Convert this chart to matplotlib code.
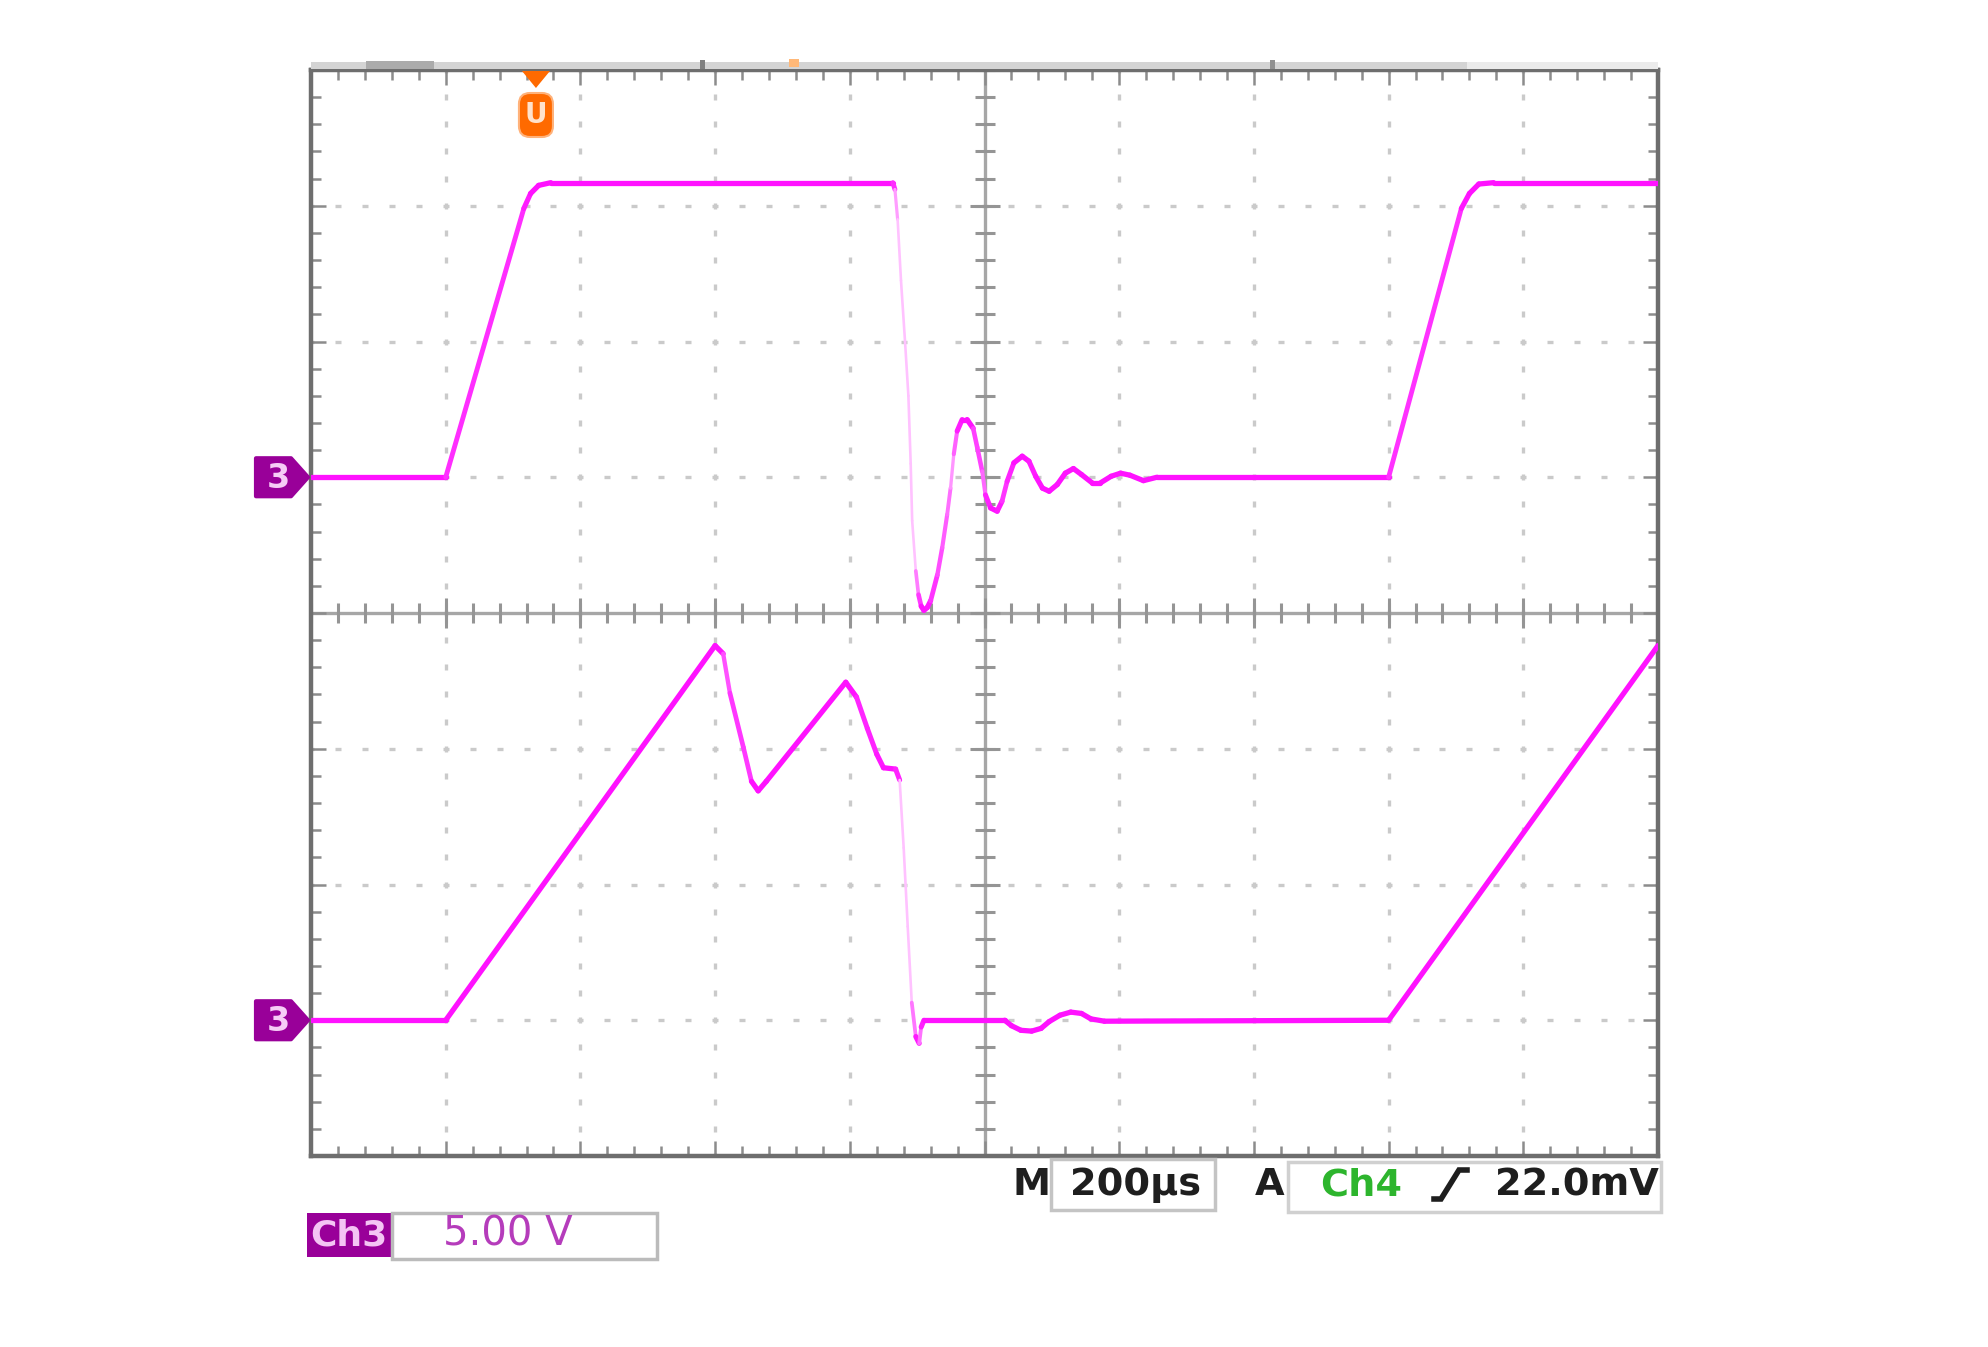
import numpy as np
import matplotlib
matplotlib.use("Agg")
import matplotlib.pyplot as plt
from matplotlib.collections import LineCollection
from matplotlib.patches import Rectangle, Polygon, FancyBboxPatch
from matplotlib.lines import Line2D
from matplotlib.transforms import IdentityTransform
from matplotlib.colors import to_rgb

# --- trace data: x in divisions (200us/div), y in divisions above the channel marker
upper_x = [-5.0, -4.0, -3.42, -3.37, -3.31, -3.22, -0.68, -0.665, -0.645, -0.62,
           -0.59, -0.565, -0.548, -0.537, -0.51, -0.49, -0.47, -0.45, -0.425, -0.40,
           -0.35, -0.314, -0.277, -0.252, -0.228, -0.203, -0.166, -0.129, -0.084, -0.054,
           -0.017, 0.007, 0.045, 0.094, 0.13, 0.168, 0.218, 0.28, 0.33, 0.38,
           0.43, 0.48, 0.54, 0.60, 0.66, 0.72, 0.80, 0.86, 0.94, 1.01,
           1.08, 1.18, 1.28, 3.0, 3.54, 3.60, 3.67, 3.78, 5.0]
upper_y = [0.0, 0.0, 1.98, 2.09, 2.15, 2.17, 2.17, 2.12, 1.90, 1.45,
           1.0, 0.6, 0.1, -0.32, -0.69, -0.865, -0.95, -0.98, -0.96, -0.91,
           -0.72, -0.52, -0.275, -0.08, 0.17, 0.34, 0.425, 0.425, 0.36, 0.22,
           0.044, -0.13, -0.226, -0.25, -0.177, -0.03, 0.106, 0.155, 0.118, 0.007,
           -0.08, -0.103, -0.054, 0.03, 0.064, 0.02, -0.042, -0.042, 0.007, 0.03,
           0.015, -0.025, 0.0, 0.0, 1.98, 2.09, 2.16, 2.17, 2.17]

lower_x = [-5.0, -4.0, -2.0, -1.94, -1.89, -1.79, -1.73, -1.68, -1.62, -1.03,
           -0.95, -0.87, -0.80, -0.75, -0.66, -0.63, -0.60, -0.57, -0.54, -0.51,
           -0.485, -0.47, -0.45, 0.15, 0.20, 0.27, 0.35, 0.42, 0.48, 0.56,
           0.64, 0.72, 0.79, 0.89, 3.0, 5.0]
lower_y = [0.0, 0.0, 2.76, 2.70, 2.41, 2.01, 1.76, 1.69, 1.76, 2.49,
           2.38, 2.15, 1.96, 1.86, 1.85, 1.77, 1.27, 0.69, 0.13, -0.12,
           -0.17, -0.05, 0.0, 0.0, -0.04, -0.074, -0.08, -0.06, -0.01, 0.037,
           0.06, 0.05, 0.01, -0.007, 0.0, 2.76]

upper_ground = 1.0
lower_ground = -3.0
trigger_pos = -3.33

channel = "3"
time_scale = "200µs"
volt_scale = "5.00 V"
trig_source = "Ch4"
trig_level = "22.0mV"

plt.rcParams["font.family"] = ["DejaVu Sans"]

W, H = 1988, 1347
L, T, R, B = 311, 70, 1658, 1156
fig = plt.figure(figsize=(W / 100, H / 100), dpi=100)
fig.patch.set_facecolor("white")
ax = fig.add_axes([L / W, 1 - B / H, (R - L) / W, (B - T) / H])
ax.set_xlim(-5, 5)
ax.set_ylim(-4, 4)

# graticule
minor_x = np.round(np.arange(-5, 5.001, 0.2), 2)
minor_y = np.round(np.arange(-4, 4.001, 0.2), 2)
grid_col = "#CACACA"
for gx in [-4, -3, -2, -1, 1, 2, 3, 4]:
    ax.plot(np.full(len(minor_y), gx), minor_y, ls="none", marker="|", ms=5,
            mew=2.4, color=grid_col, zorder=1)
for gy in [-3, -2, -1, 1, 2, 3]:
    ax.plot(minor_x, np.full(len(minor_x), gy), ls="none", marker="_", ms=5,
            mew=2.4, color=grid_col, zorder=1)

ax.axhline(0, color="#A6A6A6", lw=2.4, zorder=1)
ax.axvline(0, color="#A6A6A6", lw=2.4, zorder=1)
ax.plot(minor_x, np.zeros(len(minor_x)), ls="none", marker="|", ms=14,
        mew=2.2, color="#959595", zorder=1)
ax.plot(np.zeros(len(minor_y)), minor_y, ls="none", marker="_", ms=14,
        mew=2.2, color="#959595", zorder=1)
ax.plot(np.arange(-4, 5), np.zeros(9), ls="none", marker="|", ms=22,
        mew=2.2, color="#959595", zorder=1)
ax.plot(np.zeros(7), np.arange(-3, 4), ls="none", marker="_", ms=22,
        mew=2.2, color="#959595", zorder=1)

for s in ax.spines.values():
    s.set_color("#6E6E6E")
    s.set_linewidth(3.2)
ax.set_xticks(np.arange(-5, 6, 1))
ax.set_yticks(np.arange(-4, 5, 1))
ax.set_xticks(minor_x, minor=True)
ax.set_yticks(minor_y, minor=True)
ax.tick_params(which="both", direction="in", top=True, right=True,
               labelbottom=False, labelleft=False, color="#8C8C8C", width=1.8)
ax.tick_params(which="major", length=11)
ax.tick_params(which="minor", length=7)


def draw_trace(xs, ys, ground):
    x = np.asarray(xs, dtype=float)
    y = np.asarray(ys, dtype=float) + ground
    pts = np.column_stack([x, y])
    segs = np.stack([pts[:-1], pts[1:]], axis=1)
    slope = np.abs(np.diff(y) / np.diff(x))
    t = np.clip((slope - 1.5) / 12.0, 0, 1)
    base = np.array(to_rgb("#FF12FF"))
    pale = np.array(to_rgb("#FFC2FF"))
    cols = base[None, :] * (1 - t[:, None]) + pale[None, :] * t[:, None]
    lws = 3.8 - 1.9 * t
    lc = LineCollection(segs, colors=cols, linewidths=lws, capstyle="round",
                        joinstyle="round", zorder=3)
    ax.add_collection(lc)


draw_trace(upper_x, upper_y, upper_ground)
draw_trace(lower_x, lower_y, lower_ground)

# --- decorations in pixel coordinates (top-left origin)
ident = IdentityTransform()


def data_px(xd, yd):
    dx, dy = ax.transData.transform((xd, yd))
    return dx, H - dy


def add_poly(verts, **kw):
    p = Polygon([(x, H - y) for x, y in verts], closed=True,
                transform=ident, **kw)
    fig.add_artist(p)


def add_rect(x0, y0, x1, y1, **kw):
    r = Rectangle((x0, H - y1), x1 - x0, y1 - y0, transform=ident, **kw)
    fig.add_artist(r)


def ftext(x, y, s, **kw):
    fig.text(x / W, 1 - y / H, s, **kw)


# record bar above the graticule
add_rect(L, 62, 1467, 69, facecolor="#D4D4D4", edgecolor="none")
add_rect(1467, 62, R, 69, facecolor="#EBEBEB", edgecolor="none")
add_rect(366, 61, 434, 69, facecolor="#ABABAB", edgecolor="none")
add_rect(700, 60, 705, 69, facecolor="#808080", edgecolor="none")
add_rect(789, 59, 799, 67, facecolor="#FFB878", edgecolor="none")
add_rect(1270, 60, 1275, 69, facecolor="#909090", edgecolor="none")

# channel ground markers
for g in (upper_ground, lower_ground):
    _, yc = data_px(0, g)
    add_poly([(L - 55, yc - 19), (L - 20, yc - 19), (L - 3, yc),
              (L - 20, yc + 19), (L - 55, yc + 19)],
             facecolor="#990099", edgecolor="#990099", lw=3, joinstyle="round")
    ftext(L - 33, yc + 1, channel, color="#F6CCF6", fontsize=24,
          fontweight="bold", ha="center", va="center")

# trigger position marker
cx, _ = data_px(trigger_pos, 4)
add_poly([(cx - 14, 71), (cx + 14, 71), (cx, 88)], facecolor="#FF6A00",
         edgecolor="none")
fig.add_artist(FancyBboxPatch((cx - 17, H - 137), 34, 44,
                              boxstyle="round,pad=0,rounding_size=11",
                              transform=ident, facecolor="#FF6A00",
                              edgecolor="#FFB27A", lw=1.5))
ftext(cx, 115, "U", color="#FFE2CC", fontsize=20, fontweight="bold",
      ha="center", va="center")

# timebase / trigger readout
fs = 27.5
ink = "#1E1E1E"
ftext(1032, 1185, "M", color=ink, fontsize=fs, fontweight="bold",
      ha="center", va="center")
add_rect(1051, 1159, 1215, 1210, facecolor="white", edgecolor="#C4C4C4", lw=2.5)
ftext(1136, 1185, time_scale, color=ink, fontsize=fs, fontweight="bold",
      ha="center", va="center")
ftext(1270, 1185, "A", color=ink, fontsize=fs, fontweight="bold",
      ha="center", va="center")
add_rect(1288, 1162, 1661, 1212, facecolor="white", edgecolor="#D0D0D0", lw=2.5)
ftext(1361, 1185, trig_source, color="#2DB52D", fontsize=fs,
      fontweight="bold", ha="center", va="center")
sym = [(1434, 1199), (1441, 1199), (1459, 1170), (1467, 1170)]
fig.add_artist(Line2D([p[0] for p in sym], [H - p[1] for p in sym],
                      transform=ident, color=ink, lw=4,
                      solid_joinstyle="miter"))
ftext(1659, 1185, trig_level, color=ink, fontsize=fs, fontweight="bold",
      ha="right", va="center")

# channel scale readout
add_rect(307, 1213, 391, 1257, facecolor="#990099", edgecolor="none")
ftext(349, 1235, "Ch3", color="#F4C4F4", fontsize=26, fontweight="bold",
      ha="center", va="center")
add_rect(392, 1213, 657, 1259, facecolor="white", edgecolor="#BBBBBB", lw=2.5)
ftext(508, 1235, volt_scale, color="#B53CBB", fontsize=29,
      ha="center", va="center")

fig.savefig("out.png", dpi=100, facecolor="white")
